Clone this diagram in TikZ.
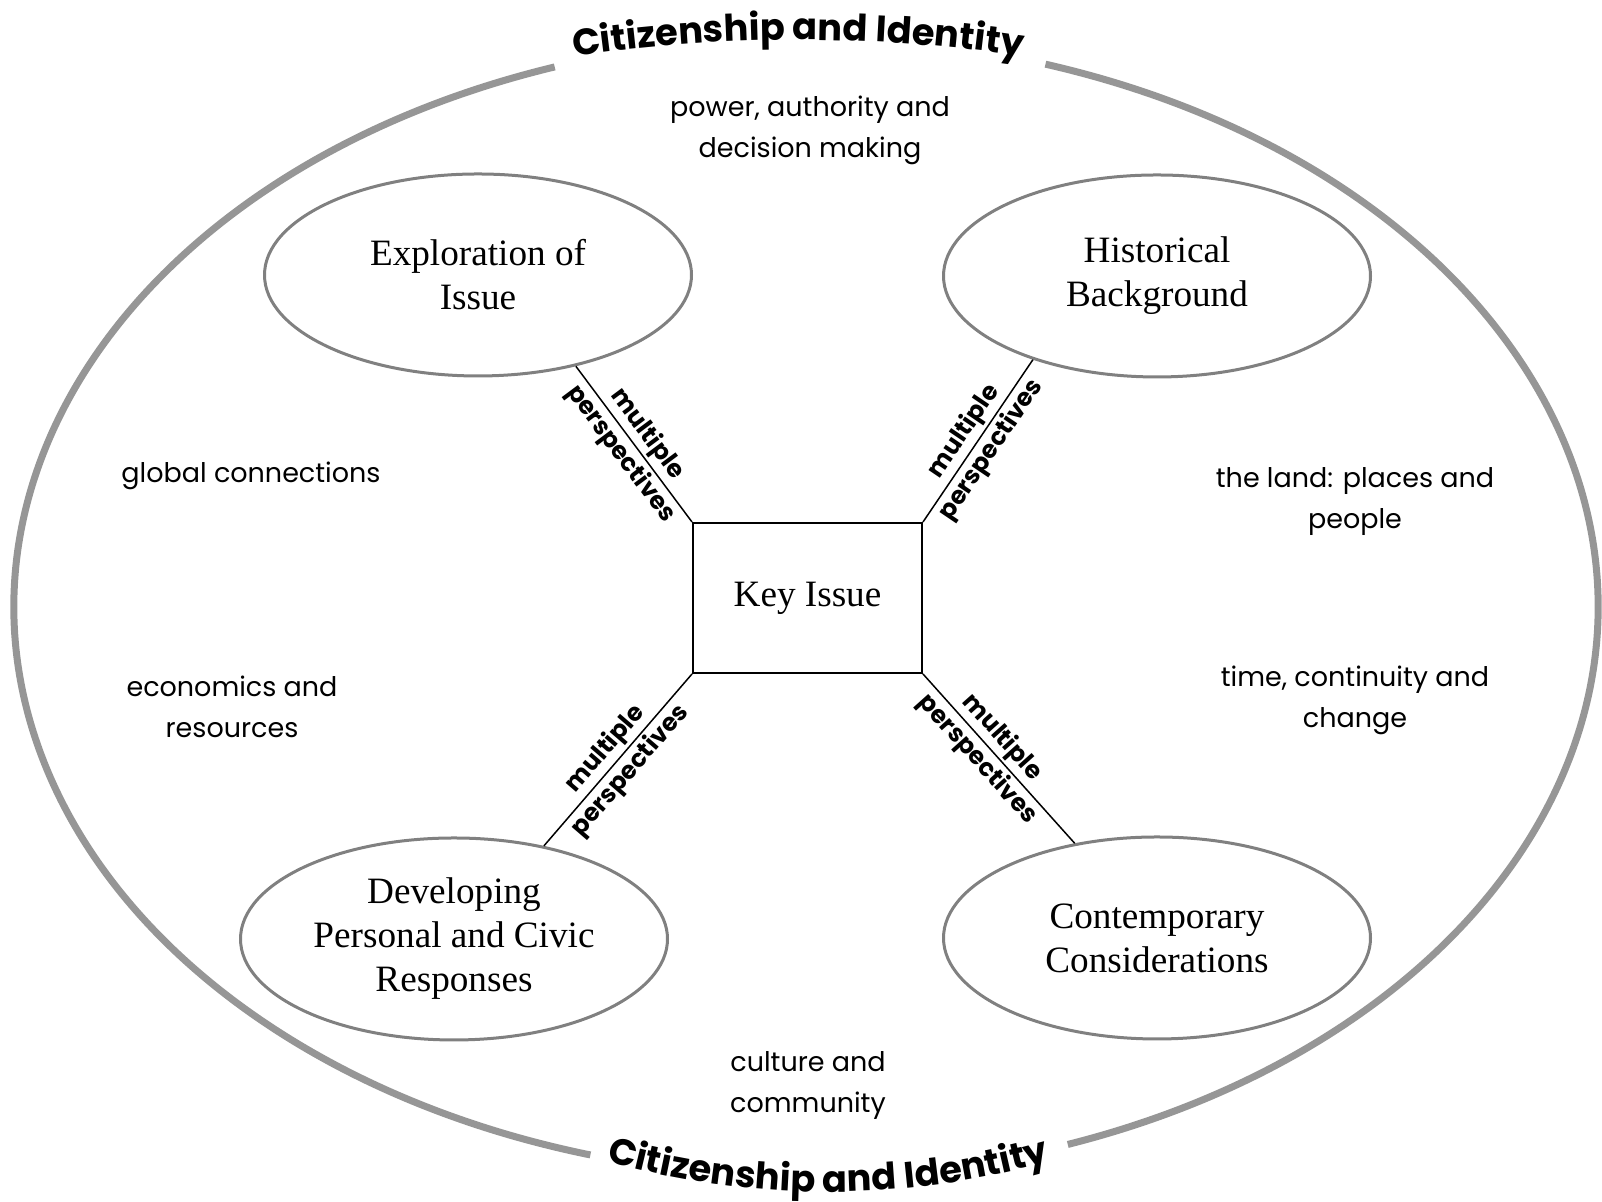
\documentclass[tikz,border=0pt]{standalone}
\usepackage{fontspec}
\setmainfont{Liberation Serif}
\newfontfamily\comicfont{Poppins}
\usetikzlibrary{shapes.geometric,decorations.text}
\definecolor{rimgray}{RGB}{150,150,150}
\definecolor{bubblegray}{RGB}{128,128,128}
\newcommand\titlefont{\comicfont\bfseries\fontsize{18.4}{22}\selectfont}
\begin{document}
\begin{tikzpicture}[x=0.5pt,y=0.5pt,
  rim/.style={draw=rimgray, line width=3.5pt},
  bubble/.style={ellipse, draw=bubblegray, line width=1.5pt, minimum width=213.5pt, minimum height=101pt, inner sep=0pt, align=center, font=\fontsize{18.6}{22}\selectfont},
  keybox/.style={rectangle, draw=black, line width=1pt, minimum width=114.5pt, minimum height=75pt, font=\fontsize{18.6}{22}\selectfont},
  topic/.style={align=center, font=\comicfont\fontsize{13.5}{20.5}\selectfont, inner sep=0pt},
  link/.style={draw=black, line width=0.75pt},
  persp/.style={sloped, align=center, font=\comicfont\bfseries\fontsize{12.3}{16.5}\selectfont, inner sep=0pt},
]
\useasboundingbox (0,0) rectangle (1602,1202);

% outer ring (two arcs, gaps for the titles)
\draw[rim] ([shift={(72.4:792 and 569.5)}]806,595) arc[start angle=72.4, end angle=-70.7, x radius=792, y radius=569.5];
\draw[rim] ([shift={(108.5:792 and 569.5)}]806,595) arc[start angle=108.5, end angle=254.2, x radius=792, y radius=569.5];

% titles along arcs
\path[decorate, decoration={text along path, text align=center, text={|\titlefont|Citizenship and Identity}}]
  (798,-386) ++(102:1548) arc[start angle=102, end angle=78, radius=1548];
\path[decorate, decoration={text along path, text align=center, text={|\titlefont|Citizenship and Identity}}]
  (828,822) ++(250:812) arc[start angle=250, end angle=290, radius=812];

% nodes
\node[keybox] (key) at (807.5,604) {Key Issue};
\node[bubble] (explore) at (478,927) {Exploration of\\Issue};
\node[bubble] (hist) at (1157,926) {Historical\\Background};
\node[bubble] (dev) at (454,263) {Developing\\Personal and Civic\\Responses};
\node[bubble] (cont) at (1157,264) {Contemporary\\Considerations};

% connectors
\draw[link] (key.north west) -- node[persp]{multiple\\perspectives} (explore.-43.8);
\draw[link] (key.north east) -- node[persp]{multiple\\perspectives} (hist.-146.5);
\draw[link] (key.south west) -- node[persp]{multiple\\perspectives} (dev.46.3);
\draw[link] (key.south east) -- node[persp, pos=0.44]{multiple\\perspectives} (cont.131.1);

% topic labels
\node[topic] (power) at (810,1072) {power, authority and\\decision making};
\node[topic] (global) at (251,726) {global connections};
\node[topic] (econ) at (232,495) {economics and\\resources};
\node[topic] (land) at (1355,700) {the land: places and\\people};
\node[topic] (time) at (1355,502) {time, continuity and\\change};
\node[topic] (culture) at (808,116) {culture and\\community};
\end{tikzpicture}
\end{document}
